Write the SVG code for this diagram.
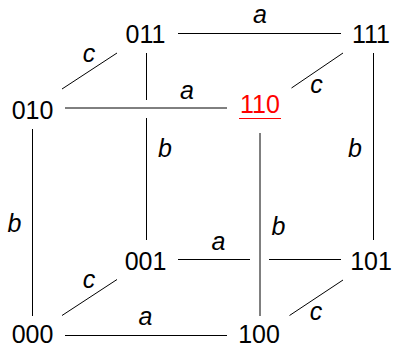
<svg xmlns="http://www.w3.org/2000/svg" width="394" height="345" viewBox="0 0 394 345">
<style>
.n{font-family:"Liberation Sans",Arial,sans-serif;font-size:25px;fill:#000;text-anchor:middle}
.hl{fill:#ff0000}
.l{font-family:"Liberation Sans",Arial,sans-serif;font-size:25px;font-style:italic;fill:#000;text-anchor:middle}
.e{stroke:#000;stroke-width:1;fill:none}
</style>
<rect width="394" height="345" fill="#fff"/>
<g id="connectors">
<path class="e" d="M178 33.5H341"/>
<path class="e" d="M65 108H227"/>
<path class="e" d="M146.5 53V100M146.5 118V240"/>
<path class="e" d="M373.5 53V240"/>
<path class="e" d="M32.5 129V316"/>
<path class="e" d="M260 133V316"/>
<path class="e" d="M178 259.5H250M269 259.5H341"/>
<path class="e" d="M65 335.5H227"/>
<path class="e" d="M62 89L117 53"/>
<path class="e" d="M291.5 88L343 53"/>
<path class="e" d="M62 315.5L117 279.5"/>
<path class="e" d="M289.5 315.5L343 280"/>
<text class="l" x="260" y="23">a</text>
<text class="l" x="89" y="62">c</text>
<text class="l" x="187" y="99">a</text>
<text class="l" x="165" y="157">b</text>
<text class="l" x="316.5" y="93">c</text>
<text class="l" x="355" y="157">b</text>
<text class="l" x="14.5" y="232">b</text>
<text class="l" x="89" y="288">c</text>
<text class="l" x="145.5" y="325">a</text>
<text class="l" x="218.5" y="250">a</text>
<text class="l" x="278.5" y="235">b</text>
<text class="l" x="316" y="320">c</text>
</g>
<g id="n011"><text class="n" x="145.5" y="43.3">011</text></g>
<g id="n111"><text class="n" x="371" y="43.3">111</text></g>
<g id="n010"><text class="n" x="32.5" y="118.5">010</text></g>
<g id="n110"><text class="n hl" x="260" y="113.3">110</text><path d="M239 118.5H281" stroke="#ff0000" stroke-width="1.2"/></g>
<g id="n001"><text class="n" x="145.5" y="270">001</text></g>
<g id="n101"><text class="n" x="371" y="270">101</text></g>
<g id="n000"><text class="n" x="32.5" y="343">000</text></g>
<g id="n100"><text class="n" x="259" y="343">100</text></g>
</svg>
